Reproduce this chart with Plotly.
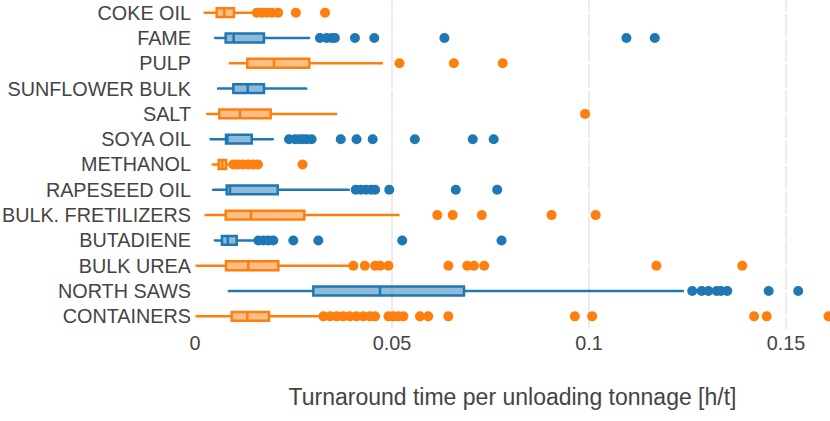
import plotly.graph_objects as go

categories = ["COKE OIL", "FAME", "PULP", "SUNFLOWER BULK", "SALT", "SOYA OIL", "METHANOL",
              "RAPESEED OIL", "BULK. FRETILIZERS", "BUTADIENE", "BULK UREA", "NORTH SAWS", "CONTAINERS"]
lower_fence = [0.00246, 0.00516, 0.00888, 0.0059, 0.00313, 0.00398, 0.0045,
               0.00465, 0.00272, 0.00508, 0.00043, 0.00863, 0.00043]
q1 = [0.0055, 0.00778, 0.01327, 0.00973, 0.00617, 0.00787, 0.0060,
      0.00805, 0.00779, 0.00685, 0.00787, 0.03003, 0.00931]
median = [0.00744, 0.00982, 0.02005, 0.01337, 0.01142, 0.0082, 0.0069,
          0.00888, 0.01421, 0.0083, 0.01353, 0.04695, 0.01327]
q3 = [0.0099, 0.0175, 0.0290, 0.0175, 0.0192, 0.01439, 0.0079,
      0.0210, 0.02774, 0.01058, 0.02115, 0.06827, 0.01878]
upper_fence = [0.0144, 0.0289, 0.0474, 0.0282, 0.0358, 0.0197, 0.0086,
               0.0390, 0.0516, 0.0148, 0.0392, 0.1238, 0.0313]
outliers = [
    [0.0157, 0.0170, 0.0183, 0.0195, 0.0211, 0.0256, 0.0330],
    [0.0317, 0.0334, 0.0347, 0.0355, 0.0406, 0.0455, 0.0633, 0.1095, 0.1167],
    [0.0519, 0.0657, 0.0781],
    [],
    [0.0990],
    [0.02386, 0.02538, 0.02647, 0.0274, 0.02835, 0.0296, 0.0370, 0.0410, 0.0451, 0.0558, 0.0705, 0.0758],
    [0.0097, 0.0109, 0.0122, 0.0135, 0.0147, 0.0160, 0.0273],
    [0.0408, 0.0421, 0.0434, 0.0447, 0.0457, 0.0493, 0.0662, 0.0767],
    [0.0615, 0.0654, 0.0728, 0.0905, 0.1017],
    [0.01607, 0.01734, 0.0186, 0.01987, 0.02495, 0.0313, 0.0526, 0.0778],
    [0.0402, 0.0431, 0.0457, 0.0470, 0.0491, 0.0643, 0.0691, 0.0708, 0.0734, 0.1171, 0.1389],
    [0.1262, 0.1286, 0.1303, 0.1324, 0.1335, 0.1351, 0.1456, 0.1531],
    [0.0326, 0.0343, 0.0360, 0.0376, 0.0393, 0.0410, 0.0427, 0.0444, 0.0457, 0.0491, 0.0503,
     0.0516, 0.0529, 0.0571, 0.0592, 0.0643, 0.0964, 0.1008, 0.1419, 0.1451, 0.1608],
]
x_ticks = [0, 0.05, 0.1, 0.15]
x_tick_labels = ["0", "0.05", "0.1", "0.15"]
x_title = "Turnaround time per unloading tonnage [h/t]"

ORANGE = "#ff7f0e"
BLUE = "#1f77b4"

fig = go.Figure()
for i, cat in enumerate(categories):
    color = ORANGE if i % 2 == 0 else BLUE
    fig.add_trace(go.Box(
        y=[cat], q1=[q1[i]], median=[median[i]], q3=[q3[i]],
        lowerfence=[lower_fence[i]], upperfence=[upper_fence[i]],
        orientation="h", line=dict(color=color, width=2.5),
        whiskerwidth=0.25, showlegend=False, hoverinfo="skip",
    ))
    if outliers[i]:
        fig.add_trace(go.Scatter(
            x=outliers[i], y=[cat] * len(outliers[i]), mode="markers",
            marker=dict(color=color, size=10), showlegend=False, hoverinfo="skip",
        ))

fig.update_layout(
    width=830, height=421,
    margin=dict(l=195, r=0, t=0, b=92.4),
    paper_bgcolor="white", plot_bgcolor="white",
    font=dict(family="Liberation Sans, Arial, sans-serif", size=19.8, color="#444"),
    boxgap=0.5,
)
fig.update_xaxes(
    range=[0, 0.16117], tickvals=x_ticks, ticktext=x_tick_labels,
    showgrid=True, gridcolor="#ebebeb", gridwidth=1.5, zeroline=False,
    showline=False, ticks="", automargin=False,
    title=dict(text=x_title, font=dict(size=23), standoff=36),
)
fig.update_yaxes(
    categoryorder="array", categoryarray=list(reversed(categories)),
    range=[-0.5, 12.5],
    showgrid=True, gridcolor="white", gridwidth=2, zeroline=False, ticks="",
    showline=False, automargin=False, ticklabelstandoff=3,
)
fig.write_html("out.html", config={"displayModeBar": False},
               post_script="document.body.style.margin='0px';")
